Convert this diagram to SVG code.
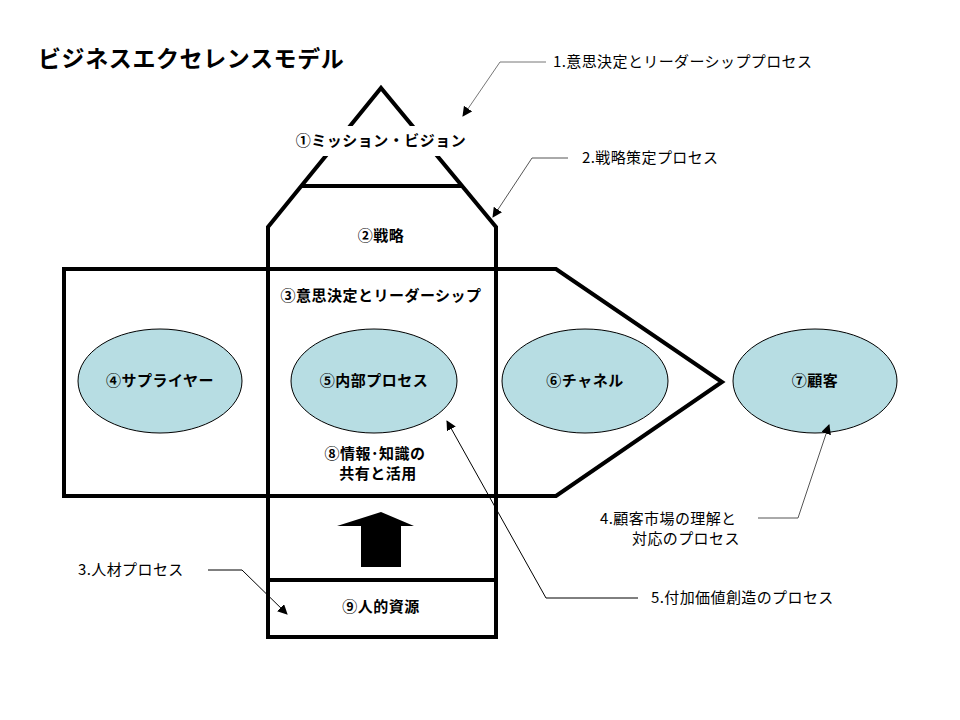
<svg xmlns="http://www.w3.org/2000/svg" width="960" height="720" viewBox="0 0 960 720">
<defs>
<marker id="ah" viewBox="0 0 10 10" refX="9" refY="5" markerWidth="10" markerHeight="10" markerUnits="userSpaceOnUse" orient="auto"><path d="M0,0 L10,5 L0,10 z" fill="#000"/></marker>
<style>
.s{fill:none;stroke:#000;stroke-width:4;stroke-linejoin:miter}
.e{fill:#b7dde3;stroke:#000;stroke-width:1}
.b{font-family:"Noto Sans CJK JP",sans-serif;font-weight:bold;font-size:15px;letter-spacing:0.5px;text-anchor:middle}
.c{font-family:"Noto Sans CJK JP",sans-serif;font-size:15px;letter-spacing:0.4px}
.l{fill:none;stroke:#000;stroke-width:1;marker-end:url(#ah)}
</style>
</defs>
<rect width="960" height="720" fill="#fff"/>
<text x="38" y="67" style="font-family:'Noto Sans CJK JP',sans-serif;font-weight:bold;font-size:23px;letter-spacing:0.6px">ビジネスエクセレンスモデル</text>
<g id="frame">
<path class="s" d="M268,637 L268,227 L381,88 L496,227 L496,637 Z"/>
<line class="s" x1="301" y1="186" x2="462" y2="186"/>
<line class="s" x1="268" y1="580" x2="496" y2="580"/>
<path class="s" d="M64,269 L556,269 L722,382 L556,496 L64,496 Z"/>
<rect x="285" y="126" width="195" height="30" fill="#fff"/>
</g>
<g id="n1"><text class="b" x="381" y="146">①ミッション・ビジョン</text></g>
<g id="n2"><text class="b" x="381" y="241">②戦略</text></g>
<g id="n3"><text class="b" x="381" y="301">③意思決定とリーダーシップ</text></g>
<g id="n4"><ellipse class="e" cx="160" cy="381" rx="82" ry="52"/><text class="b" x="160" y="386">④サプライヤー</text></g>
<g id="n5"><ellipse class="e" cx="374" cy="381" rx="83" ry="52"/><text class="b" x="374" y="386">⑤内部プロセス</text></g>
<g id="n6"><ellipse class="e" cx="585" cy="381" rx="83" ry="52"/><text class="b" x="585" y="386">⑥チャネル</text></g>
<g id="n7"><ellipse class="e" cx="815" cy="381" rx="82" ry="52"/><text class="b" x="815" y="386">⑦顧客</text></g>
<g id="n8"><text class="b" x="375" y="459">⑧情報･知識の</text><text class="b" x="378" y="479">共有と活用</text></g>
<g id="n9"><text class="b" x="381" y="612">⑨人的資源</text></g>
<g id="arrow"><path d="M381,512 L414,526 L401,526 L401,567 L361,567 L361,526 L337,526 Z" fill="#000"/></g>
<g id="connectors">
<path class="l" style="stroke:#777" d="M546,62 L500,62 L463,116"/>
<path class="l" style="stroke:#555" d="M568,158 L532,158 L493,217"/>
<path class="l" style="stroke:#555" d="M758,518 L798,518 L829,425"/>
<path class="l" d="M638,598 L546,598 L447,421"/>
<path class="l" d="M208,570 L242,570 L287,614"/>
</g>
<g id="callouts">
<text class="c" x="553" y="67">1.意思決定とリーダーシッププロセス</text>
<text class="c" x="582" y="163">2.戦略策定プロセス</text>
<text class="c" x="600" y="524">4.顧客市場の理解と</text>
<text class="c" x="632" y="544">対応のプロセス</text>
<text class="c" x="651" y="603">5.付加価値創造のプロセス</text>
<text class="c" x="78" y="575">3.人材プロセス</text>
</g>
</svg>
